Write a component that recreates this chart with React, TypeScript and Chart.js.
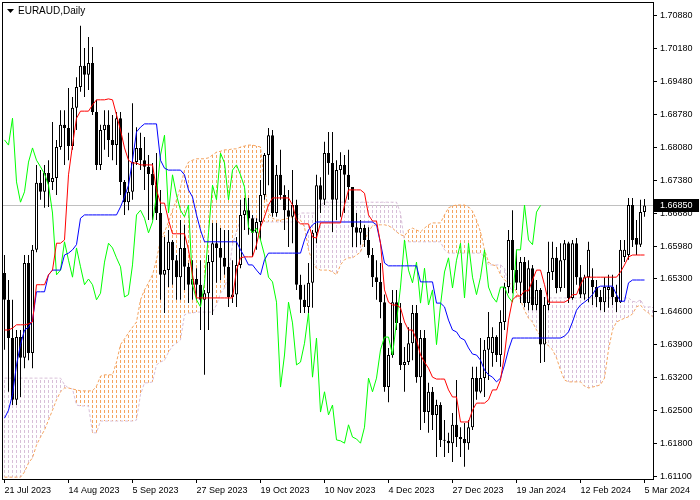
import React, { useEffect, useRef } from 'react';
import { Chart, registerables } from 'chart.js';
Chart.register(...registerables);

const symbolTitle = 'EURAUD,Daily';
const dateLabels = ['21 Jul 2023', '14 Aug 2023', '5 Sep 2023', '27 Sep 2023', '19 Oct 2023', '10 Nov 2023', '4 Dec 2023', '27 Dec 2023', '19 Jan 2024', '12 Feb 2024', '5 Mar 2024'];
const dateLabelBars = [0, 16, 32, 48, 64, 80, 96, 112, 128, 144, 160];
const priceTicks = [1.611, 1.618, 1.625, 1.632, 1.639, 1.646, 1.653, 1.6598, 1.6668, 1.6738, 1.6808, 1.6878, 1.6948, 1.7018, 1.7088];
const lastPrice = 1.6685;
const chikouShift = 26;

const opens = [
  1.6542, 1.6485, 1.6404, 1.6273, 1.6406, 1.6362, 1.6563, 1.6372, 1.6591, 1.6733,
  1.6714, 1.6754, 1.6735, 1.6743, 1.6809, 1.6856, 1.6849, 1.6811, 1.6892, 1.6936,
  1.6981, 1.6962, 1.6987, 1.6883, 1.6771, 1.6845, 1.6856, 1.6824, 1.6813, 1.6870,
  1.6735, 1.6692, 1.6714, 1.6777, 1.6807, 1.6781, 1.6767, 1.6752, 1.6728, 1.6669,
  1.6538, 1.6548, 1.6608, 1.6569, 1.6533, 1.6595, 1.6555, 1.6517, 1.6529, 1.6517,
  1.6485, 1.6499, 1.6565, 1.6605, 1.6595, 1.6574, 1.6555, 1.6491, 1.6496, 1.6559,
  1.6665, 1.6675, 1.6658, 1.6627, 1.6650, 1.6707, 1.6792, 1.6834, 1.6669, 1.6750,
  1.6707, 1.6675, 1.6661, 1.6686, 1.6517, 1.6485, 1.6470, 1.6521, 1.6627, 1.6728,
  1.6697, 1.6796, 1.6775, 1.6697, 1.6760, 1.6771, 1.6750, 1.6724, 1.6639, 1.6627,
  1.6637, 1.6612, 1.6580, 1.6533, 1.6523, 1.6480, 1.6300, 1.6368, 1.6480, 1.6436,
  1.6347, 1.6353, 1.6393, 1.6457, 1.6321, 1.6404, 1.6247, 1.6290, 1.6241, 1.6262,
  1.6188, 1.6186, 1.6181, 1.6220, 1.6194, 1.6190, 1.6181, 1.6215, 1.6319, 1.6290,
  1.6319, 1.6379, 1.6372, 1.6406, 1.6368, 1.6438, 1.6512, 1.6612, 1.6548, 1.6521,
  1.6565, 1.6478, 1.6552, 1.6474, 1.6506, 1.6390, 1.6474, 1.6544, 1.6574, 1.6510,
  1.6569, 1.6605, 1.6489, 1.6605, 1.6533, 1.6496, 1.6533, 1.6527, 1.6512, 1.6491,
  1.6480, 1.6506, 1.6512, 1.6491, 1.6480, 1.6576, 1.6580, 1.6686, 1.6616, 1.6602,
  1.6671,
];
const highs = [
  1.6580, 1.6527, 1.6485, 1.6421, 1.6421, 1.6580, 1.6580, 1.6601, 1.6771, 1.6760,
  1.6771, 1.6781, 1.6862, 1.6824, 1.6887, 1.6887, 1.6934, 1.6915, 1.6957, 1.7066,
  1.7019, 1.7042, 1.7021, 1.6909, 1.6856, 1.6887, 1.6887, 1.6877, 1.6883, 1.6883,
  1.6739, 1.6839, 1.6902, 1.6851, 1.6839, 1.6830, 1.6792, 1.6775, 1.6796, 1.6718,
  1.6618, 1.6633, 1.6612, 1.6580, 1.6654, 1.6644, 1.6563, 1.6569, 1.6552, 1.6569,
  1.6506, 1.6580, 1.6648, 1.6648, 1.6637, 1.6633, 1.6633, 1.6569, 1.6618, 1.6697,
  1.6701, 1.6701, 1.6665, 1.6658, 1.6739, 1.6796, 1.6849, 1.6845, 1.6771, 1.6803,
  1.6728, 1.6718, 1.6760, 1.6697, 1.6538, 1.6517, 1.6563, 1.6633, 1.6750, 1.6745,
  1.6820, 1.6841, 1.6841, 1.6781, 1.6798, 1.6792, 1.6803, 1.6724, 1.6669, 1.6654,
  1.6644, 1.6639, 1.6595, 1.6569, 1.6563, 1.6496, 1.6383, 1.6506, 1.6506, 1.6478,
  1.6385, 1.6427, 1.6474, 1.6474, 1.6421, 1.6421, 1.6309, 1.6300, 1.6273, 1.6268,
  1.6230, 1.6203, 1.6245, 1.6315, 1.6215, 1.6224, 1.6230, 1.6343, 1.6343, 1.6404,
  1.6400, 1.6459, 1.6427, 1.6410, 1.6463, 1.6521, 1.6633, 1.6675, 1.6591, 1.6576,
  1.6576, 1.6569, 1.6559, 1.6527, 1.6510, 1.6491, 1.6608, 1.6608, 1.6597, 1.6605,
  1.6612, 1.6608, 1.6612, 1.6616, 1.6559, 1.6538, 1.6608, 1.6552, 1.6527, 1.6506,
  1.6533, 1.6538, 1.6538, 1.6517, 1.6612, 1.6612, 1.6701, 1.6701, 1.6654, 1.6697,
  1.6699,
];
const lows = [
  1.6379, 1.6290, 1.6262, 1.6262, 1.6279, 1.6340, 1.6357, 1.6340, 1.6586, 1.6697,
  1.6680, 1.6682, 1.6718, 1.6707, 1.6803, 1.6771, 1.6781, 1.6803, 1.6845, 1.6926,
  1.6915, 1.6930, 1.6877, 1.6760, 1.6760, 1.6803, 1.6788, 1.6781, 1.6771, 1.6707,
  1.6665, 1.6675, 1.6697, 1.6771, 1.6760, 1.6718, 1.6654, 1.6654, 1.6654, 1.6485,
  1.6457, 1.6512, 1.6517, 1.6485, 1.6485, 1.6506, 1.6478, 1.6485, 1.6485, 1.6421,
  1.6326, 1.6421, 1.6453, 1.6521, 1.6527, 1.6538, 1.6470, 1.6478, 1.6470, 1.6552,
  1.6633, 1.6623, 1.6576, 1.6591, 1.6612, 1.6697, 1.6728, 1.6661, 1.6661, 1.6697,
  1.6633, 1.6597, 1.6605, 1.6506, 1.6457, 1.6457, 1.6457, 1.6468, 1.6605, 1.6669,
  1.6686, 1.6750, 1.6629, 1.6654, 1.6661, 1.6669, 1.6697, 1.6597, 1.6597, 1.6602,
  1.6597, 1.6574, 1.6512, 1.6485, 1.6446, 1.6290, 1.6268, 1.6362, 1.6421, 1.6336,
  1.6290, 1.6347, 1.6357, 1.6309, 1.6209, 1.6224, 1.6203, 1.6209, 1.6152, 1.6173,
  1.6152, 1.6160, 1.6141, 1.6173, 1.6152, 1.6131, 1.6167, 1.6209, 1.6273, 1.6287,
  1.6279, 1.6315, 1.6343, 1.6353, 1.6343, 1.6421, 1.6499, 1.6499, 1.6506, 1.6478,
  1.6470, 1.6463, 1.6463, 1.6463, 1.6351, 1.6353, 1.6463, 1.6527, 1.6499, 1.6502,
  1.6510, 1.6478, 1.6485, 1.6517, 1.6489, 1.6485, 1.6480, 1.6474, 1.6470, 1.6463,
  1.6459, 1.6468, 1.6474, 1.6459, 1.6478, 1.6565, 1.6570, 1.6597, 1.6580, 1.6597,
  1.6661,
];
const closes = [
  1.6485, 1.6404, 1.6273, 1.6406, 1.6362, 1.6563, 1.6372, 1.6591, 1.6733, 1.6714,
  1.6754, 1.6735, 1.6743, 1.6809, 1.6856, 1.6849, 1.6811, 1.6892, 1.6936, 1.6981,
  1.6962, 1.6987, 1.6883, 1.6771, 1.6845, 1.6856, 1.6824, 1.6813, 1.6870, 1.6735,
  1.6692, 1.6714, 1.6777, 1.6807, 1.6781, 1.6767, 1.6752, 1.6728, 1.6669, 1.6538,
  1.6548, 1.6608, 1.6569, 1.6533, 1.6595, 1.6555, 1.6517, 1.6529, 1.6517, 1.6485,
  1.6499, 1.6565, 1.6605, 1.6595, 1.6574, 1.6555, 1.6491, 1.6496, 1.6559, 1.6665,
  1.6675, 1.6658, 1.6627, 1.6650, 1.6707, 1.6792, 1.6834, 1.6669, 1.6750, 1.6707,
  1.6675, 1.6661, 1.6686, 1.6517, 1.6485, 1.6470, 1.6521, 1.6627, 1.6728, 1.6697,
  1.6796, 1.6775, 1.6697, 1.6760, 1.6771, 1.6750, 1.6724, 1.6639, 1.6627, 1.6637,
  1.6612, 1.6580, 1.6533, 1.6523, 1.6480, 1.6300, 1.6368, 1.6480, 1.6436, 1.6347,
  1.6353, 1.6393, 1.6457, 1.6321, 1.6404, 1.6247, 1.6290, 1.6241, 1.6262, 1.6188,
  1.6186, 1.6181, 1.6220, 1.6194, 1.6190, 1.6181, 1.6215, 1.6319, 1.6290, 1.6319,
  1.6379, 1.6406, 1.6406, 1.6368, 1.6438, 1.6512, 1.6612, 1.6548, 1.6521, 1.6565,
  1.6478, 1.6552, 1.6474, 1.6506, 1.6390, 1.6474, 1.6544, 1.6574, 1.6510, 1.6569,
  1.6605, 1.6489, 1.6605, 1.6533, 1.6496, 1.6533, 1.6591, 1.6512, 1.6491, 1.6480,
  1.6512, 1.6512, 1.6491, 1.6480, 1.6591, 1.6591, 1.6686, 1.6612, 1.6602, 1.6671,
  1.6685,
];
const tenkan = [
  1.6421, 1.6421, 1.6425, 1.6432, 1.6432, 1.6432, 1.6434, 1.6438, 1.6517, 1.6517,
  1.6517, 1.6538, 1.6548, 1.6605, 1.6605, 1.6612, 1.6750, 1.6813, 1.6870, 1.6885,
  1.6885, 1.6885, 1.6898, 1.6909, 1.6909, 1.6909, 1.6911, 1.6909, 1.6877, 1.6845,
  1.6807, 1.6781, 1.6775, 1.6775, 1.6771, 1.6771, 1.6771, 1.6771, 1.6718, 1.6690,
  1.6690, 1.6654, 1.6625, 1.6625, 1.6625, 1.6625, 1.6591, 1.6538, 1.6489, 1.6489,
  1.6489, 1.6489, 1.6489, 1.6489, 1.6489, 1.6489, 1.6489, 1.6489, 1.6548, 1.6574,
  1.6576, 1.6576, 1.6576, 1.6602, 1.6639, 1.6661, 1.6686, 1.6701, 1.6701, 1.6701,
  1.6701, 1.6701, 1.6686, 1.6654, 1.6646, 1.6646, 1.6646, 1.6618, 1.6616, 1.6648,
  1.6648, 1.6648, 1.6648, 1.6648, 1.6648, 1.6686, 1.6718, 1.6718, 1.6718, 1.6718,
  1.6711, 1.6665, 1.6652, 1.6652, 1.6605, 1.6506, 1.6480, 1.6474, 1.6474, 1.6468,
  1.6438, 1.6421, 1.6421, 1.6400, 1.6368, 1.6353, 1.6340, 1.6321, 1.6317, 1.6317,
  1.6317, 1.6294, 1.6279, 1.6279, 1.6226, 1.6226, 1.6226, 1.6251, 1.6266, 1.6266,
  1.6266, 1.6273, 1.6294, 1.6294, 1.6315, 1.6368, 1.6442, 1.6485, 1.6493, 1.6493,
  1.6504, 1.6504, 1.6527, 1.6548, 1.6548, 1.6517, 1.6480, 1.6480, 1.6480, 1.6480,
  1.6480, 1.6485, 1.6496, 1.6496, 1.6517, 1.6533, 1.6533, 1.6533, 1.6533, 1.6533,
  1.6533, 1.6533, 1.6533, 1.6533, 1.6544, 1.6559, 1.6576, 1.6580, 1.6580, 1.6580,
  1.6580,
];
const kijun = [
  1.6234, 1.6251, 1.6284, 1.6347, 1.6390, 1.6421, 1.6427, 1.6442, 1.6502, 1.6502,
  1.6502, 1.6538, 1.6548, 1.6548, 1.6548, 1.6580, 1.6584, 1.6591, 1.6602, 1.6658,
  1.6665, 1.6665, 1.6665, 1.6665, 1.6665, 1.6665, 1.6665, 1.6665, 1.6665, 1.6682,
  1.6703, 1.6728, 1.6781, 1.6841, 1.6851, 1.6858, 1.6858, 1.6858, 1.6858, 1.6781,
  1.6764, 1.6760, 1.6760, 1.6760, 1.6760, 1.6750, 1.6718, 1.6703, 1.6665, 1.6633,
  1.6608, 1.6608, 1.6608, 1.6608, 1.6608, 1.6608, 1.6608, 1.6608, 1.6608, 1.6591,
  1.6576, 1.6559, 1.6559, 1.6548, 1.6538, 1.6570, 1.6584, 1.6584, 1.6584, 1.6584,
  1.6584, 1.6584, 1.6584, 1.6584, 1.6584, 1.6612, 1.6633, 1.6644, 1.6650, 1.6650,
  1.6650, 1.6650, 1.6650, 1.6650, 1.6650, 1.6650, 1.6650, 1.6650, 1.6650, 1.6650,
  1.6650, 1.6650, 1.6650, 1.6644, 1.6605, 1.6563, 1.6557, 1.6557, 1.6557, 1.6557,
  1.6557, 1.6557, 1.6557, 1.6557, 1.6523, 1.6523, 1.6523, 1.6523, 1.6478, 1.6478,
  1.6470, 1.6442, 1.6421, 1.6417, 1.6404, 1.6400, 1.6383, 1.6370, 1.6368, 1.6357,
  1.6336, 1.6326, 1.6321, 1.6311, 1.6319, 1.6347, 1.6379, 1.6404, 1.6404, 1.6404,
  1.6404, 1.6404, 1.6404, 1.6404, 1.6404, 1.6404, 1.6404, 1.6404, 1.6404, 1.6404,
  1.6408, 1.6417, 1.6438, 1.6463, 1.6474, 1.6480, 1.6487, 1.6496, 1.6510, 1.6514,
  1.6514, 1.6514, 1.6514, 1.6496, 1.6482, 1.6482, 1.6521, 1.6527, 1.6527, 1.6527,
  1.6527,
];
const senkouA = [
  1.6109, 1.6109, 1.6109, 1.6109, 1.6109, 1.6120, 1.6139, 1.6150, 1.6177, 1.6194,
  1.6209, 1.6230, 1.6251, 1.6273, 1.6290, 1.6298, 1.6298, 1.6296, 1.6294, 1.6292,
  1.6292, 1.6292, 1.6292, 1.6302, 1.6323, 1.6326, 1.6326, 1.6326, 1.6353, 1.6390,
  1.6402, 1.6415, 1.6427, 1.6438, 1.6485, 1.6506, 1.6521, 1.6538, 1.6570, 1.6612,
  1.6629, 1.6650, 1.6675, 1.6697, 1.6724, 1.6760, 1.6777, 1.6781, 1.6784, 1.6784,
  1.6784, 1.6786, 1.6792, 1.6798, 1.6800, 1.6803, 1.6803, 1.6805, 1.6805, 1.6809,
  1.6811, 1.6813, 1.6813, 1.6811, 1.6809, 1.6728, 1.6669, 1.6658, 1.6654, 1.6654,
  1.6656, 1.6658, 1.6661, 1.6661, 1.6654, 1.6639, 1.6591, 1.6565, 1.6552, 1.6548,
  1.6548, 1.6548, 1.6544, 1.6538, 1.6559, 1.6570, 1.6574, 1.6574, 1.6580, 1.6586,
  1.6612, 1.6629, 1.6642, 1.6644, 1.6644, 1.6644, 1.6642, 1.6637, 1.6629, 1.6623,
  1.6620, 1.6633, 1.6637, 1.6633, 1.6629, 1.6637, 1.6644, 1.6648, 1.6648, 1.6648,
  1.6665, 1.6680, 1.6684, 1.6686, 1.6686, 1.6686, 1.6682, 1.6673, 1.6654, 1.6629,
  1.6591, 1.6565, 1.6559, 1.6557, 1.6538, 1.6527, 1.6521, 1.6517, 1.6502, 1.6485,
  1.6463, 1.6446, 1.6438, 1.6421, 1.6408, 1.6400, 1.6387, 1.6379, 1.6362, 1.6336,
  1.6315, 1.6311, 1.6311, 1.6311, 1.6311, 1.6302, 1.6298, 1.6300, 1.6302, 1.6305,
  1.6319, 1.6379, 1.6421, 1.6438, 1.6442, 1.6446, 1.6449, 1.6455, 1.6470, 1.6474,
  1.6463, 1.6457, 1.6449,
];
const senkouB = [
  1.6319, 1.6319, 1.6319, 1.6319, 1.6319, 1.6319, 1.6319, 1.6319, 1.6319, 1.6319,
  1.6319, 1.6319, 1.6319, 1.6319, 1.6319, 1.6305, 1.6298, 1.6296, 1.6262, 1.6260,
  1.6260, 1.6260, 1.6203, 1.6203, 1.6228, 1.6228, 1.6228, 1.6228, 1.6228, 1.6228,
  1.6228, 1.6228, 1.6228, 1.6230, 1.6284, 1.6309, 1.6309, 1.6311, 1.6347, 1.6353,
  1.6357, 1.6374, 1.6387, 1.6393, 1.6400, 1.6453, 1.6457, 1.6457, 1.6459, 1.6459,
  1.6459, 1.6459, 1.6459, 1.6474, 1.6499, 1.6510, 1.6538, 1.6602, 1.6629, 1.6654,
  1.6661, 1.6658, 1.6658, 1.6658, 1.6650, 1.6650, 1.6650, 1.6650, 1.6650, 1.6650,
  1.6650, 1.6650, 1.6650, 1.6663, 1.6669, 1.6669, 1.6669, 1.6669, 1.6669, 1.6686,
  1.6692, 1.6692, 1.6692, 1.6692, 1.6692, 1.6692, 1.6692, 1.6692, 1.6692, 1.6692,
  1.6692, 1.6692, 1.6692, 1.6692, 1.6692, 1.6692, 1.6692, 1.6692, 1.6692, 1.6669,
  1.6608, 1.6608, 1.6608, 1.6608, 1.6608, 1.6608, 1.6608, 1.6608, 1.6608, 1.6608,
  1.6591, 1.6584, 1.6584, 1.6584, 1.6584, 1.6584, 1.6584, 1.6584, 1.6584, 1.6584,
  1.6576, 1.6559, 1.6559, 1.6559, 1.6559, 1.6552, 1.6517, 1.6502, 1.6489, 1.6489,
  1.6489, 1.6489, 1.6489, 1.6489, 1.6489, 1.6489, 1.6489, 1.6489, 1.6489, 1.6489,
  1.6489, 1.6489, 1.6489, 1.6489, 1.6489, 1.6489, 1.6489, 1.6489, 1.6489, 1.6489,
  1.6489, 1.6489, 1.6489, 1.6489, 1.6489, 1.6489, 1.6489, 1.6482, 1.6480, 1.6485,
  1.6470, 1.6470, 1.6470,
];

const AXIS_FONT = { family: 'Liberation Sans', size: 9 };

function makePattern(ctx: CanvasRenderingContext2D, color: string) {
  const c = document.createElement('canvas');
  c.width = 1;
  c.height = 5;
  const g = c.getContext('2d') as CanvasRenderingContext2D;
  g.fillStyle = color;
  g.fillRect(0, 0, 1, 3);
  return ctx.createPattern(c, 'repeat') as CanvasPattern;
}

export default function App() {
  const ref = useRef<HTMLCanvasElement | null>(null);

  useEffect(() => {
    const canvas = ref.current;
    if (!canvas) return;
    const ctx = canvas.getContext('2d') as CanvasRenderingContext2D;
    const upKumo = makePattern(ctx, '#F4A460');
    const downKumo = makePattern(ctx, '#D8BFD8');

    const decor = {
      id: 'decor',
      beforeDatasetsDraw(chart: any) {
        const { ctx: c, chartArea: a, scales } = chart;
        const py = Math.round(scales.y.getPixelForValue(lastPrice)) + 0.5;
        c.save();
        c.strokeStyle = '#C0C0C0';
        c.lineWidth = 1;
        c.beginPath();
        c.moveTo(a.left, py);
        c.lineTo(a.right, py);
        c.stroke();
        c.restore();
      },
      afterDraw(chart: any) {
        const { ctx: c, chartArea: a, scales } = chart;
        c.save();
        c.strokeStyle = '#000';
        c.lineWidth = 1;
        c.strokeRect(a.left + 0.5, a.top + 0.5, a.right - a.left, a.bottom - a.top);
        const py = Math.round(scales.y.getPixelForValue(lastPrice));
        c.fillStyle = '#000';
        c.fillRect(a.right + 1, py - 6, 45, 13);
        c.fillStyle = '#fff';
        c.font = '9px "Liberation Sans"';
        c.textBaseline = 'middle';
        c.textAlign = 'left';
        c.fillText(lastPrice.toFixed(5), a.right + 7, py + 0.5);
        c.fillStyle = '#000';
        c.beginPath();
        c.moveTo(7, 9);
        c.lineTo(14, 9);
        c.lineTo(10.5, 13);
        c.closePath();
        c.fill();
        c.font = '10px "Liberation Sans"';
        c.fillText(symbolTitle, 18, 11);
        c.restore();
      },
    };

    const idx = closes.map((_, i) => i);
    const chart = new Chart(canvas, {
      type: 'bar',
      data: {
        datasets: [
          {
            type: 'line',
            label: 'Tenkan-sen',
            data: tenkan.map((v, i) => ({ x: i, y: v })),
            borderColor: '#FF0000',
            borderWidth: 1,
            pointRadius: 0,
            order: 1,
          } as any,
          {
            type: 'line',
            label: 'Kijun-sen',
            data: kijun.map((v, i) => ({ x: i, y: v })),
            borderColor: '#0000FF',
            borderWidth: 1,
            pointRadius: 0,
            order: 1,
          } as any,
          {
            type: 'line',
            label: 'Chikou Span',
            data: closes.slice(chikouShift).map((v, k) => ({ x: k, y: v })),
            borderColor: '#00FF00',
            borderWidth: 1,
            pointRadius: 0,
            order: 1,
          } as any,
          {
            type: 'bar',
            label: 'Body',
            data: idx.map((i) => ({ x: i, y: [opens[i], closes[i]] })),
            backgroundColor: idx.map((i) => (closes[i] >= opens[i] ? '#FFFFFF' : '#000000')),
            borderColor: '#000000',
            borderWidth: 1,
            borderSkipped: false,
            barThickness: 3,
            minBarLength: 1,
            inflateAmount: 0,
            grouped: false,
            order: 2,
          } as any,
          {
            type: 'bar',
            label: 'Wick',
            data: idx.map((i) => ({ x: i, y: [lows[i], highs[i]] })),
            backgroundColor: '#000000',
            borderWidth: 0,
            barThickness: 1,
            inflateAmount: 0,
            grouped: false,
            order: 3,
          } as any,
          {
            type: 'line',
            label: 'Senkou Span A',
            data: senkouA.map((v, i) => ({ x: i, y: v })),
            borderColor: '#F4A460',
            borderWidth: 1,
            borderDash: [3, 2],
            pointRadius: 0,
            order: 4,
          } as any,
          {
            type: 'line',
            label: 'Senkou Span B',
            data: senkouB.map((v, i) => ({ x: i, y: v })),
            borderColor: '#D8BFD8',
            borderWidth: 1,
            borderDash: [3, 2],
            pointRadius: 0,
            order: 4,
          } as any,
          {
            type: 'bar',
            label: 'Kumo',
            data: senkouA.map((v, i) => ({ x: i, y: [v, senkouB[i]] })),
            backgroundColor: senkouA.map((v, i) => (v >= senkouB[i] ? upKumo : downKumo)),
            borderWidth: 0,
            barThickness: 1,
            inflateAmount: 0,
            grouped: false,
            order: 5,
          } as any,
        ],
      },
      options: {
        responsive: false,
        devicePixelRatio: 1,
        animation: false,
        events: [],
        layout: { padding: { left: 2, top: 2, right: 0, bottom: 0 }, autoPadding: false },
        plugins: { legend: { display: false }, tooltip: { enabled: false } },
        scales: {
          x: {
            type: 'linear',
            position: 'bottom',
            min: -0.625,
            max: 162.125,
            offset: false,
            grid: { offset: false, drawOnChartArea: false, drawTicks: true, tickLength: 4, color: '#000' },
            border: { display: false },
            ticks: {
              autoSkip: false,
              maxRotation: 0,
              align: 'start',
              padding: 2,
              color: '#000',
              font: AXIS_FONT,
              callback: (_v: any, i: number) => dateLabels[i],
            },
            afterBuildTicks: (s: any) => {
              s.ticks = dateLabelBars.map((v) => ({ value: v }));
            },
            afterFit: (s: any) => {
              s.height = 21;
              s.paddingLeft = 0;
              s.paddingRight = 0;
            },
          },
          y: {
            type: 'linear',
            position: 'right',
            min: 1.61051,
            max: 1.71164,
            beginAtZero: false,
            grid: { drawOnChartArea: false, drawTicks: true, tickLength: 4, color: '#000' },
            border: { display: false },
            ticks: {
              autoSkip: false,
              padding: 3,
              color: '#000',
              font: AXIS_FONT,
              callback: (v: any) => Number(v).toFixed(5),
            },
            afterBuildTicks: (s: any) => {
              s.ticks = priceTicks.map((v) => ({ value: v }));
            },
            afterFit: (s: any) => {
              s.width = 47;
              s.paddingTop = 0;
              s.paddingBottom = 0;
            },
          },
        },
      } as any,
      plugins: [decor],
    });
    return () => chart.destroy();
  }, []);

  return (
    <div style={{ position: 'absolute', left: 0, top: 0, width: 700, height: 500, background: '#fff' }}>
      <canvas ref={ref} width={700} height={500} style={{ display: 'block' }} />
    </div>
  );
}
